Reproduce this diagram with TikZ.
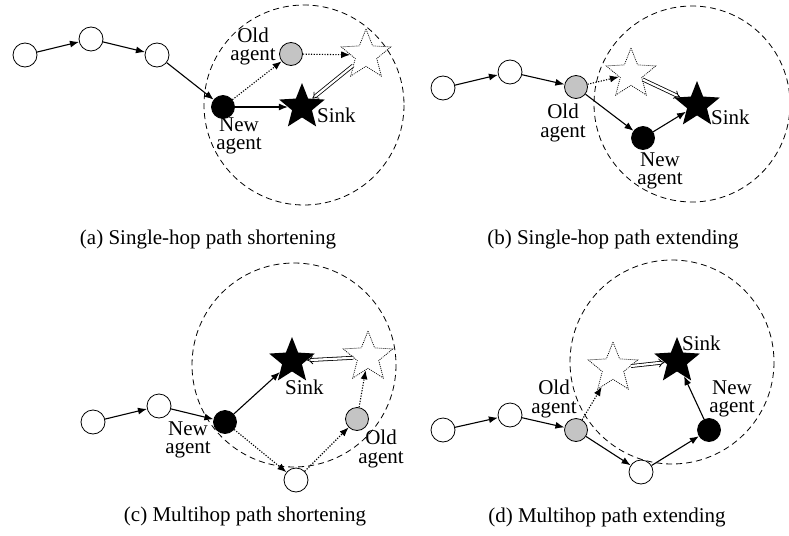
\documentclass[tikz,border=0pt]{standalone}
\usepackage{fontspec}
\setmainfont{Liberation Serif}
\usetikzlibrary{arrows.meta,shapes.geometric}
\definecolor{agentgray}{RGB}{196,196,196}
\begin{document}
\begin{tikzpicture}[x=1pt,y=-1pt,
  plainnode/.style={circle, draw, line width=0.8pt, fill=white, minimum size=24pt, inner sep=0pt},
  oldag/.style={plainnode, fill=agentgray, minimum size=23pt},
  newag/.style={circle, draw, fill=black, line width=0.8pt, minimum size=23pt, inner sep=0pt},
  sinkstar/.style={star, star points=5, star point ratio=2.3, fill=black, minimum size=48pt, inner sep=0pt},
  ghoststar/.style={star, star points=5, star point ratio=2.3, draw, fill=white, line width=0.7pt, dash pattern=on 1pt off 1pt, minimum size=52pt, inner sep=0pt},
  hoparrow/.style={line width=1.1pt, -{Latex[length=9pt,width=7pt]}},
  trialarrow/.style={hoparrow, dash pattern=on 1.2pt off 1.5pt},
  relocate/.style={line width=0.8pt, double, double distance=2.2pt, -{Implies}},
  rangecircle/.style={draw, line width=0.8pt, dash pattern=on 6pt off 4pt},
  lbl/.style={font=\fontsize{21}{18.5}\selectfont, align=center, inner sep=0pt},
  captext/.style={font=\fontsize{21}{24}\selectfont, inner sep=0pt, anchor=base}
]
\useasboundingbox (0,0) rectangle (789,535);

% ---------- (a) ----------
\draw[rangecircle] (304,105) circle[radius=100];
\node[plainnode] (a1) at (25,55) {};
\node[plainnode] (a2) at (91,39) {};
\node[plainnode] (a3) at (157,55) {};
\node[newag] (anew) at (223,107) {};
\node[oldag] (aold) at (291,54) {};
\node[ghoststar] (aghost) at (366,55) {};
\node[sinkstar] (asink) at (302,107) {};
\draw[hoparrow] (a1) -- (a2);
\draw[hoparrow] (a2) -- (a3);
\draw[hoparrow] (a3) -- (anew);
\draw[trialarrow] (anew) -- (aold);
\draw[hoparrow] (anew) -- (asink);
\draw[trialarrow] (aold) -- (aghost);
\draw[relocate] (aghost) -- (asink);
\node[lbl] (aoldl) at (253,46.5) {Old\\agent};
\node[lbl] (anewl) at (239,136) {New\\agent};
\node[lbl, anchor=base west] (asinkl) at (317,122) {Sink};
\node[captext] (acap) at (208,244) {(a) Single-hop path shortening};

% ---------- (b) ----------
\draw[rangecircle] (692,104) circle[radius=98];
\node[plainnode] (b1) at (443,88) {};
\node[plainnode] (b2) at (510,72) {};
\node[oldag] (bold) at (576,87) {};
\node[newag] (bnew) at (643,138) {};
\node[ghoststar] (bghost) at (631,74) {};
\node[sinkstar] (bsink) at (697,105) {};
\draw[hoparrow] (b1) -- (b2);
\draw[hoparrow] (b2) -- (bold);
\draw[trialarrow] (bold) -- (bghost);
\draw[hoparrow] (bold) -- (bnew);
\draw[hoparrow] (bnew) -- (bsink);
\draw[relocate] (bghost) -- (bsink);
\node[lbl] (boldl) at (563,123) {Old\\agent};
\node[lbl] (bnewl) at (660,171) {New\\agent};
\node[lbl, anchor=base west] (bsinkl) at (711,124) {Sink};
\node[captext] (bcap) at (613,244) {(b) Single-hop path extending};

% ---------- (c) ----------
\draw[rangecircle] (294,365) circle[radius=102];
\node[plainnode] (c1) at (93,422) {};
\node[plainnode] (c2) at (159,406) {};
\node[newag] (cnew) at (225,422) {};
\node[plainnode] (clow) at (296,480) {};
\node[oldag] (cold) at (357,419) {};
\node[ghoststar] (cghost) at (368,357) {};
\node[sinkstar] (csink) at (292,361) {};
\draw[hoparrow] (c1) -- (c2);
\draw[hoparrow] (c2) -- (cnew);
\draw[hoparrow] (cnew) -- (csink);
\draw[trialarrow] (cnew) -- (clow);
\draw[trialarrow] (clow) -- (cold);
\draw[trialarrow] (cold) -- (cghost);
\draw[relocate] (cghost) -- (csink);
\node[lbl] (cnewl) at (188,440) {New\\agent};
\node[lbl, anchor=base west] (csinkl) at (285,394) {Sink};
\node[lbl] (coldl) at (381,449) {Old\\agent};
\node[captext] (ccap) at (245,521) {(c) Multihop path shortening};

% ---------- (d) ----------
\draw[rangecircle] (672,362) circle[radius=102];
\node[plainnode] (d1) at (443,430) {};
\node[plainnode] (d2) at (510,415) {};
\node[oldag] (dold) at (576,430) {};
\node[plainnode] (dlow) at (641,472) {};
\node[newag] (dnew) at (709,430) {};
\node[ghoststar] (dghost) at (613,368) {};
\node[sinkstar] (dsink) at (677,361) {};
\draw[hoparrow] (d1) -- (d2);
\draw[hoparrow] (d2) -- (dold);
\draw[trialarrow] (dold) -- (dghost);
\draw[hoparrow] (dold) -- (dlow);
\draw[hoparrow] (dlow) -- (dnew);
\draw[hoparrow] (dnew) -- (dsink);
\draw[relocate] (dghost) -- (dsink);
\node[lbl, anchor=base west] (dsinkl) at (682,350) {Sink};
\node[lbl] (doldl) at (554,399) {Old\\agent};
\node[lbl] (dnewl) at (732,399) {New\\agent};
\node[captext] (dcap) at (607,522) {(d) Multihop path extending};
\end{tikzpicture}
\end{document}
